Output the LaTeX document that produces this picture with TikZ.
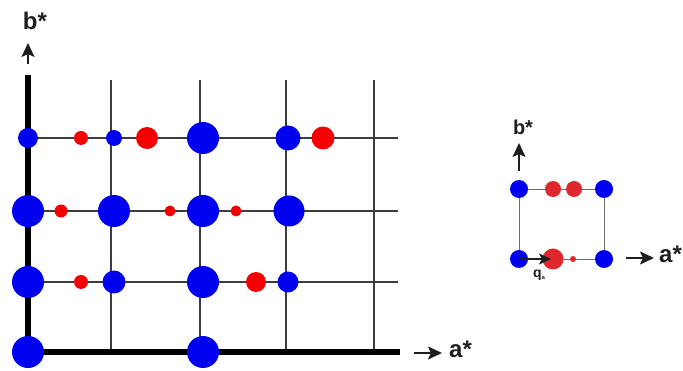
\documentclass[tikz,border=0pt]{standalone}
\usepackage{fontspec}
\setmainfont{Liberation Sans}
\usetikzlibrary{arrows.meta}
\definecolor{dotblue}{RGB}{0,0,240}
\definecolor{dotred}{RGB}{245,0,0}
\definecolor{smallred}{RGB}{222,40,45}
\definecolor{gridgray}{RGB}{60,60,60}
\definecolor{cellgray}{RGB}{110,110,110}
\definecolor{arrowdark}{RGB}{30,30,30}
\tikzset{
  bdot/.style={circle,fill=dotblue,inner sep=0pt,minimum size=#1},
  rdot/.style={circle,fill=dotred,inner sep=0pt,minimum size=#1},
  sdot/.style={circle,fill=smallred,inner sep=0pt,minimum size=#1},
  thinline/.style={draw=gridgray,line width=1.1pt},
  thickline/.style={draw=black,line width=6pt},
  cellline/.style={draw=cellgray,line width=0.8pt},
  axarrow/.style={draw=arrowdark,line width=1.8pt,-{Stealth[length=14pt,width=13pt,inset=3pt]}},
  axlabel/.style={font=\fontsize{24}{26}\selectfont\bfseries,text=arrowdark,inner sep=0pt},
  smlabel/.style={font=\fontsize{20}{22}\selectfont\bfseries,text=arrowdark,inner sep=0pt},
}
\begin{document}
\begin{tikzpicture}[x=1pt,y=-1pt]
\useasboundingbox (0,0) rectangle (683,371);
% grid
\coordinate (v1t) at (111,80); \coordinate (v1b) at (111,352);
\coordinate (v2t) at (200,80); \coordinate (v2b) at (200,352);
\coordinate (v3t) at (286,80); \coordinate (v3b) at (286,352);
\coordinate (v4t) at (374,80); \coordinate (v4b) at (374,352);
\coordinate (h1l) at (28,138); \coordinate (h1r) at (398,138);
\coordinate (h2l) at (28,211); \coordinate (h2r) at (398,211);
\coordinate (h3l) at (28,282); \coordinate (h3r) at (398,282);
\coordinate (ytop) at (28,78); \coordinate (orig) at (28,352); \coordinate (xend) at (397,352);
\foreach \a/\b in {v1t/v1b,v2t/v2b,v3t/v3b,v4t/v4b,h1l/h1r,h2l/h2r,h3l/h3r}
  \draw[thinline] (\a) -- (\b);
\draw[thickline,line cap=rect] (ytop) -- (orig) -- (xend);
% row 1
\node[bdot=20pt] (b11) at (28,138) {};
\node[rdot=14pt] (r11) at (81,138) {};
\node[bdot=16pt] (b12) at (114,138) {};
\node[rdot=22pt] (r12) at (147,138) {};
\node[bdot=32pt] (b13) at (203,138) {};
\node[bdot=25pt] (b14) at (288,138) {};
\node[rdot=23pt] (r13) at (323,138) {};
% row 2
\node[bdot=32pt] (b21) at (28,211) {};
\node[rdot=13pt] (r21) at (61,211) {};
\node[bdot=32pt] (b22) at (114,211) {};
\node[rdot=11pt] (r22) at (170,211) {};
\node[bdot=32pt] (b23) at (203,211) {};
\node[rdot=11pt] (r23) at (236,211) {};
\node[bdot=31pt] (b24) at (289,211) {};
% row 3
\node[bdot=32pt] (b31) at (28,282) {};
\node[rdot=14pt] (r31) at (81,282) {};
\node[bdot=23pt] (b32) at (114,282) {};
\node[bdot=32pt] (b33) at (203,282) {};
\node[rdot=20pt] (r32) at (256,282) {};
\node[bdot=21pt] (b34) at (288,282) {};
% row 4
\node[bdot=32pt] (b41) at (28,352) {};
\node[bdot=32pt] (b42) at (203,352) {};
% main axis labels
\coordinate (bab) at (28,64); \coordinate (bat) at (28,43);
\draw[axarrow] (bab) -- (bat);
\node[axlabel] (blab) at (35,21) {b*};
\coordinate (aal) at (414,353); \coordinate (aar) at (442,353);
\draw[axarrow] (aal) -- (aar);
\node[axlabel,anchor=west] (alab) at (449,349) {a*};
% small cell
\node[bdot=18pt] (c1) at (519,189) {};
\node[bdot=18pt] (c2) at (604,189) {};
\node[bdot=18pt] (c3) at (519,259) {};
\node[bdot=18pt] (c4) at (604,259) {};
\draw[cellline] (c1) -- (c2) -- (c4) -- (c3) -- (c1);
\node[sdot=16pt] (s1) at (553,189) {};
\node[sdot=16pt] (s2) at (574,189) {};
\node[sdot=21pt] (s3) at (553,259) {};
\node[sdot=6pt] (s4) at (573,259) {};
\coordinate (qend) at (551,259);
\draw[arrowdark,line width=1.5pt,-{Stealth[length=12pt,width=11pt,inset=3pt]}] (c3.center) -- (qend);
\node[font=\fontsize{14}{15}\selectfont\bfseries,text=arrowdark,inner sep=0pt] (qlab) at (539,275) {q\raisebox{-2pt}{\fontsize{6}{7}\selectfont a}};
\coordinate (sbb) at (519,171); \coordinate (sbt) at (519,143);
\draw[axarrow] (sbb) -- (sbt);
\node[smlabel] (sblab) at (523,127) {b*};
\coordinate (sal) at (626,258); \coordinate (sar) at (654,258);
\draw[axarrow] (sal) -- (sar);
\node[axlabel,anchor=west] (salab) at (659,254) {a*};
\end{tikzpicture}
\end{document}
